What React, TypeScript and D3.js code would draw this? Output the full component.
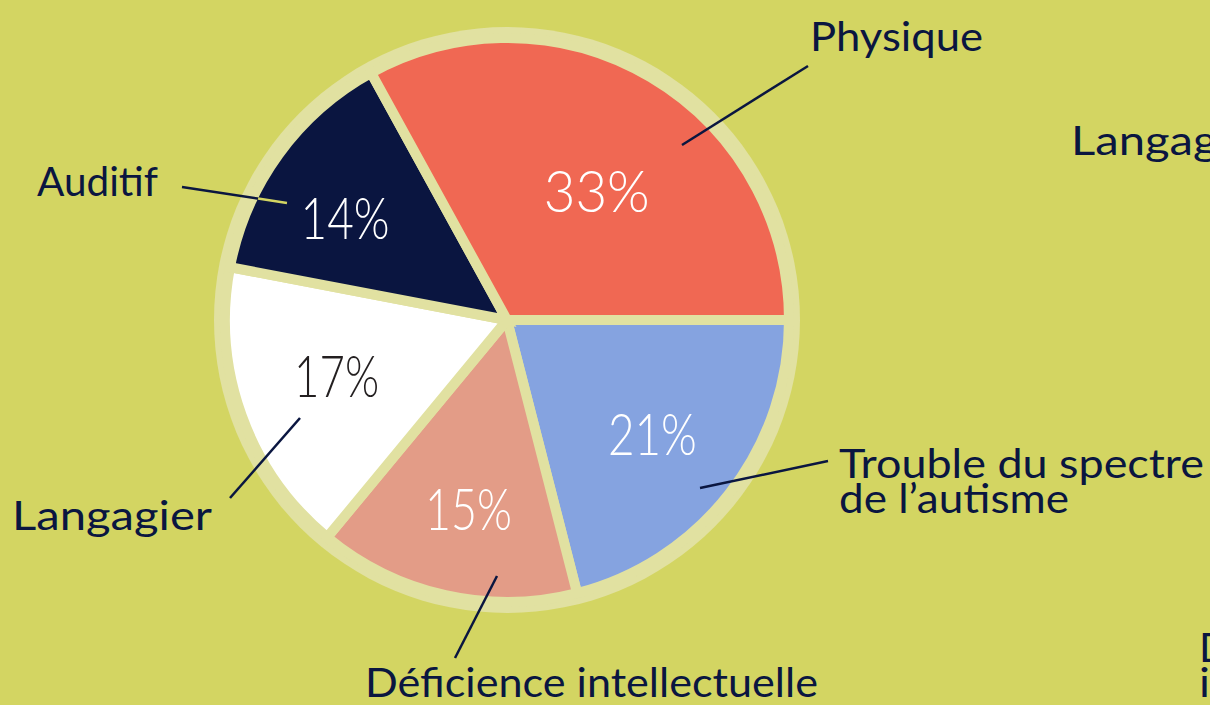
import React, { useEffect, useRef } from "react";
import * as d3 from "d3";

// categories, in drawing order (clockwise from 3 o'clock)
const categories = [
  "Trouble du spectre de l\u2019autisme",
  "Déficience intellectuelle",
  "Langagier",
  "Auditif",
  "Physique",
];
const values = [21, 15, 17, 14, 33];
const colors = ["#85a3e0", "#e39c87", "#ffffff", "#0a1540", "#f06853"];
const pctColors = ["#ffffff", "#ffffff", "#231f20", "#ffffff", "#ffffff"];
const labelRadius = [184, 191, 179, 192, 158];
const labelShift = [0, -1, 2, -3.5, 4]; // degrees
const pctWidths = [89, 87, 85, 89, 106];

// callout placement (annotation layout)
const callouts = [
  { lines: ["Trouble du spectre", "de l\u2019autisme"], widths: [365, 230], x: 839, y: 478, from: [700, 488], to: [828, 461] },
  { lines: ["Déficience intellectuelle"], widths: [453], x: 365, y: 697, from: [497, 576], to: [455, 658] },
  { lines: ["Langagier"], widths: [200], x: 12, y: 530, from: [300, 418], to: [230, 498] },
  { lines: ["Auditif"], widths: [121], x: 37, y: 196, from: [287, 203], to: [182, 187] },
  { lines: ["Physique"], widths: [173], x: 810, y: 51, from: [682, 145], to: [808, 66] },
];
// labels of a neighbouring chart, cut by the frame
const cutLabels = [
  { lines: ["Langagier"], widths: [200], x: 1071, y: 155 },
  { lines: ["Déficience", "intellectuelle"], widths: [192, 255], x: 1199, y: 662 },
];

const W = 1210, H = 705;
const cx = 507, cy = 320;
const ringR = 293, pieR = 282;
const BG = "#d3d562", RING = "#e1e1a1", NAVY = "#0a1640";
const FONT = "Lato, 'Open Sans', sans-serif";

export default function App() {
  const ref = useRef<SVGSVGElement>(null);

  useEffect(() => {
    const svg = d3.select(ref.current);
    svg.selectAll("*").remove();
    svg.append("rect").attr("width", W).attr("height", H).attr("fill", BG);

    const data = categories.map((c, i) => ({ name: c, value: values[i], i }));
    const pie = d3.pie<any>().value(d => d.value).sort(null)
      .startAngle(Math.PI / 2).endAngle(Math.PI / 2 + 2 * Math.PI);
    const arcs = pie(data);
    const arc = d3.arc<any>().innerRadius(0).outerRadius(pieR);

    const g = svg.append("g").attr("transform", `translate(${cx},${cy})`);
    g.append("circle").attr("r", ringR).attr("fill", RING);
    g.selectAll("path.slice").data(arcs).enter().append("path")
      .attr("class", "slice")
      .attr("d", arc as any)
      .attr("fill", (d: any) => colors[d.data.i])
      .attr("stroke", RING)
      .attr("stroke-width", 10)
      .attr("stroke-linejoin", "miter");

    // leader lines
    const innerFill = pieR - 5;
    callouts.forEach((c, i) => {
      svg.append("line")
        .attr("x1", c.from[0]).attr("y1", c.from[1])
        .attr("x2", c.to[0]).attr("y2", c.to[1])
        .attr("stroke", NAVY).attr("stroke-width", 2.5);
      if (colors[i] === "#0a1540") {
        // the part lying over the dark slice is drawn light
        const fx = c.from[0] - cx, fy = c.from[1] - cy;
        const tx = c.to[0] - cx, ty = c.to[1] - cy;
        const ddx = tx - fx, ddy = ty - fy;
        const a = ddx * ddx + ddy * ddy, b = 2 * (fx * ddx + fy * ddy), cc = fx * fx + fy * fy - innerFill * innerFill;
        const t = (-b + Math.sqrt(b * b - 4 * a * cc)) / (2 * a);
        svg.append("line")
          .attr("x1", c.from[0]).attr("y1", c.from[1])
          .attr("x2", cx + fx + ddx * t).attr("y2", cy + fy + ddy * t)
          .attr("stroke", "#d3d562").attr("stroke-width", 2.5);
      }
    });

    // percentages
    g.selectAll("text.pct").data(arcs).enter().append("text")
      .attr("class", "pct")
      .attr("transform", (d: any) => {
        const i = d.data.i;
        const r = labelRadius[i];
        const a = (d.startAngle + d.endAngle) / 2 + (labelShift[i] * Math.PI) / 180;
        return `translate(${r * Math.sin(a)},${-r * Math.cos(a)})`;
      })
      .attr("text-anchor", "middle")
      .attr("dominant-baseline", "central")
      .attr("font-family", FONT)
      .attr("font-weight", 300)
      .attr("font-size", 58)
      .attr("textLength", (d: any) => pctWidths[d.data.i])
      .attr("lengthAdjust", "spacingAndGlyphs")
      .attr("fill", (d: any) => pctColors[d.data.i])
      .text((d: any) => `${d.data.value}%`);

    // category labels
    [...callouts, ...cutLabels].forEach(c => {
      const t = svg.append("text")
        .attr("x", c.x).attr("y", c.y)
        .attr("font-family", FONT)
        .attr("font-size", 40)
        .attr("fill", NAVY);
      c.lines.forEach((l, j) => {
        t.append("tspan").attr("x", c.x).attr("dy", j === 0 ? 0 : 35)
          .attr("textLength", c.widths[j])
          .attr("lengthAdjust", "spacingAndGlyphs")
          .text(l);
      });
    });
  }, []);

  return (
    <svg ref={ref} width={W} height={H}
      style={{ position: "absolute", left: 0, top: 0, display: "block" }} />
  );
}
